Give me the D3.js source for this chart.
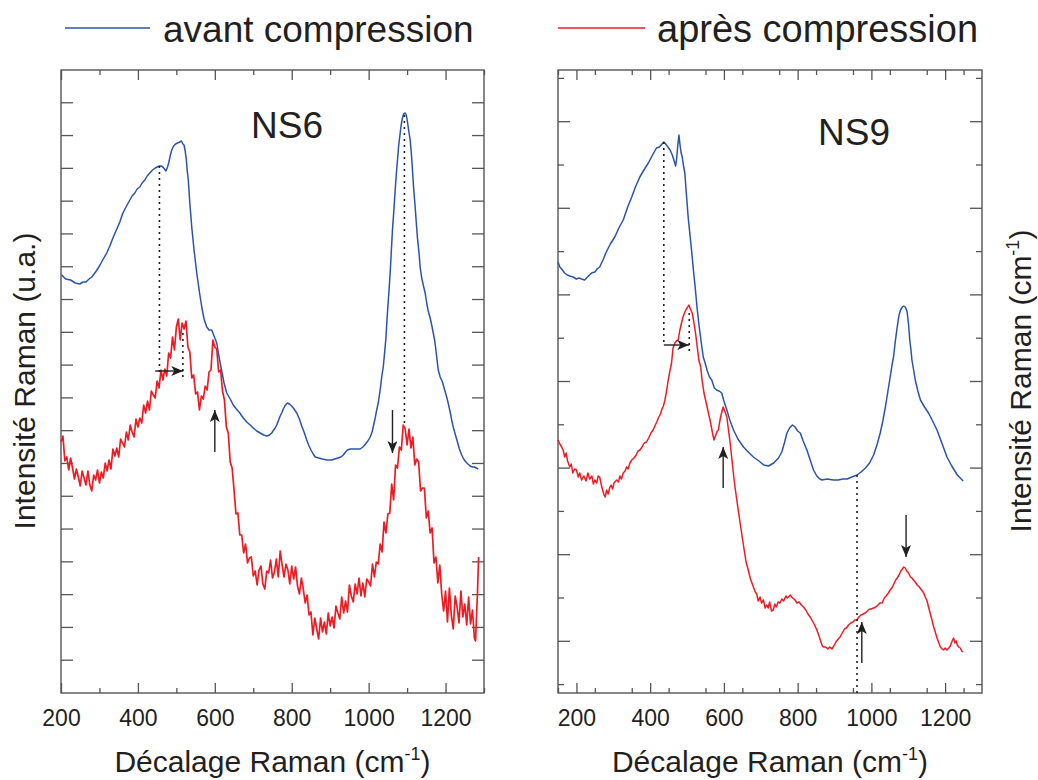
<!DOCTYPE html>
<html>
<head>
<meta charset="utf-8">
<script src="https://cdn.jsdelivr.net/npm/d3@7"></script>
<style>
  body { margin: 0; background: #fff; }
  text { font-family: "Liberation Sans", Arial, sans-serif; fill: #231f20; }
</style>
</head>
<body>
<svg id="chart"></svg>
<script>
// wavenumber (cm-1), intensity (u.a.)
const ns6Avant = [
  [202,418],[212,414],[225,413],[237,410],[249,409],[257,411],[265,411],[273,414],[280,416],[290,421],
  [300,427],[310,434],[319,440],[327,447],[335,455],[344,463],[353,471],[360,479],[365,483],[372,488],
  [379,493],[385,497],[392,500],[398,504],[405,506],[411,510],[418,513],[424,517],[431,520],[438,523],
  [445,525],[450,526],[456,527],[461,527],[465,526],[469,524],[473,522],[477,526],[480,530],[484,537],
  [488,543],[493,547],[498,549],[503,550],[509,551],[513,552],[517,549],[520,548],[523,542],[526,533],
  [528,523],[531,513],[535,490],[540,466],[546,443],[553,420],[560,401],[566,386],[572,374],[579,366],
  [585,363],[592,363],[598,357],[605,350],[611,336],[618,322],[624,310],[631,300],[640,294],[648,288],
  [656,284],[665,280],[674,275],[683,271],[692,268],[700,265],[709,262],[718,260],[727,258],[735,257],
  [742,258],[748,260],[753,263],[757,265],[761,268],[765,272],[770,277],[774,280],[778,284],[782,287],
  [786,289],[789,290],[794,289],[800,287],[806,284],[813,280],[820,274],[826,267],[833,260],[839,253],
  [845,247],[850,243],[856,239],[861,236],[870,235],[880,234],[892,233],[904,233],[912,234],[920,235],
  [928,236],[934,238],[940,241],[945,243],[952,244],[960,244],[970,244],[978,244],[985,246],[992,249],
  [998,252],[1004,256],[1009,261],[1013,268],[1017,275],[1021,283],[1025,290],[1028,298],[1031,306],[1034,316],
  [1038,326],[1041,338],[1045,355],[1048,375],[1052,397],[1056,420],[1059,442],[1062,463],[1066,485],[1069,503],
  [1072,519],[1075,533],[1078,547],[1082,560],[1085,569],[1088,575],[1091,579],[1095,580],[1098,578],[1101,571],
  [1104,563],[1108,553],[1111,540],[1114,523],[1117,505],[1121,486],[1124,470],[1127,455],[1131,440],[1134,426],
  [1138,415],[1142,408],[1147,400],[1151,390],[1155,382],[1160,375],[1164,368],[1168,360],[1172,352],[1175,343],
  [1178,333],[1181,323],[1186,316],[1192,311],[1197,304],[1203,296],[1208,288],[1212,281],[1216,273],[1220,266],
  [1225,259],[1231,251],[1236,244],[1242,238],[1247,234],[1253,231],[1258,229],[1264,227],[1270,226],[1275,226],
  [1280,225],[1285,224]
];

const ns6Apres = [
  [200,251],[205,257],[210,232],[215,236],[220,223],[225,235],[230,225],[235,214],[240,224],[245,216],
  [250,207],[255,222],[260,215],[265,208],[270,222],[275,208],[280,202],[285,218],[290,213],[295,223],
  [300,210],[305,221],[310,215],[315,230],[320,222],[325,233],[330,224],[335,244],[340,237],[345,245],
  [350,236],[355,254],[360,250],[365,246],[370,261],[375,253],[380,268],[385,261],[390,256],[395,274],
  [400,266],[405,275],[410,270],[415,288],[420,280],[425,292],[430,283],[435,302],[440,298],[445,295],
  [450,312],[455,305],[460,323],[465,313],[470,324],[475,317],[480,340],[485,335],[490,356],[495,343],
  [500,366],[505,374],[510,353],[515,370],[520,364],[525,372],[530,346],[535,341],[540,315],[545,318],
  [550,299],[555,301],[560,283],[565,297],[570,294],[575,307],[580,303],[585,321],[590,323],[595,353],
  [600,346],[605,344],[610,321],[615,323],[620,302],[625,293],[630,266],[635,260],[640,231],[645,225],
  [650,203],[655,179],[660,180],[665,158],[670,158],[675,140],[680,149],[685,130],[690,135],[695,136],
  [700,117],[705,122],[710,108],[715,123],[720,127],[725,109],[730,104],[735,122],[740,120],[745,133],
  [750,115],[755,121],[760,134],[765,116],[770,142],[775,128],[780,116],[785,129],[790,123],[795,109],
  [800,127],[805,114],[810,126],[815,107],[820,99],[825,115],[830,104],[835,90],[840,98],[845,78],
  [850,81],[855,58],[860,75],[865,64],[870,54],[875,75],[880,61],[885,71],[890,59],[895,80],
  [900,67],[905,76],[910,65],[915,87],[920,80],[925,74],[930,96],[935,80],[940,92],[945,81],
  [950,108],[955,97],[960,91],[965,109],[970,99],[975,115],[980,97],[985,110],[990,96],[995,114],
  [1000,111],[1005,107],[1010,129],[1015,116],[1020,131],[1025,129],[1030,149],[1035,141],[1040,171],[1045,160],
  [1050,179],[1055,180],[1060,209],[1065,193],[1070,228],[1075,225],[1080,246],[1085,243],[1090,268],[1095,264],
  [1100,248],[1105,264],[1110,245],[1115,256],[1120,228],[1125,234],[1130,231],[1135,202],[1140,205],[1145,205],
  [1150,175],[1155,182],[1160,160],[1165,165],[1170,130],[1175,136],[1180,110],[1185,128],[1190,99],[1195,82],
  [1200,102],[1205,71],[1210,105],[1215,78],[1220,64],[1225,97],[1230,86],[1235,70],[1240,102],[1245,76],
  [1250,89],[1255,68],[1260,96],[1265,69],[1270,83],[1275,55],[1278,52],[1283,100],[1286,136]
];

const ns9Avant = [
  [150,431],[155,426],[160,424],[168,420],[175,418],[182,417],[191,416],[200,414],[207,415],[214,414],
  [222,413],[230,416],[241,420],[250,421],[256,424],[263,426],[272,433],[281,441],[292,449],[304,456],
  [315,465],[327,473],[338,485],[350,496],[360,506],[372,516],[383,523],[395,530],[405,537],[417,545],
  [425,546],[432,549],[437,551],[442,549],[448,546],[454,543],[460,538],[465,532],[469,527],[472,535],
  [475,548],[478,558],[481,548],[484,540],[487,536],[490,528],[494,520],[498,500],[503,476],[508,458],
  [513,440],[517,424],[522,406],[527,386],[533,366],[538,352],[544,336],[549,330],[555,322],[561,316],
  [567,313],[574,305],[580,303],[587,302],[594,300],[600,292],[608,283],[616,273],[626,263],[638,254],
  [653,246],[666,241],[680,236],[695,232],[708,228],[721,227],[735,230],[748,235],[757,241],[764,250],
  [771,260],[778,265],[786,268],[793,266],[800,262],[807,260],[815,252],[825,243],[834,233],[843,223],
  [852,217],[860,214],[866,213],[880,214],[897,213],[910,213],[922,214],[934,214],[947,216],[961,218],
  [972,221],[984,225],[995,230],[1006,238],[1015,248],[1024,260],[1031,272],[1038,286],[1044,300],[1051,316],
  [1056,328],[1060,336],[1065,352],[1070,366],[1075,378],[1079,383],[1084,386],[1088,387],[1092,386],[1097,381],
  [1101,368],[1104,353],[1107,344],[1110,333],[1115,322],[1119,313],[1126,302],[1133,293],[1144,286],[1155,280],
  [1166,272],[1178,263],[1191,250],[1205,236],[1218,227],[1233,218],[1241,215],[1249,212]
];

const ns9Apres = [
  [150,253],[155,249],[160,246],[164,243],[168,236],[172,240],[176,232],[182,226],[186,229],[190,220],
  [195,224],[200,223],[205,216],[209,220],[214,213],[220,217],[226,212],[231,220],[236,214],[242,217],
  [246,209],[250,213],[255,210],[259,217],[263,216],[267,209],[271,203],[275,198],[278,196],[282,203],
  [286,199],[290,205],[294,208],[298,204],[302,210],[309,213],[314,211],[318,217],[322,214],[327,220],
  [332,222],[336,226],[340,224],[345,230],[350,233],[356,235],[362,238],[367,242],[372,243],[378,246],
  [384,250],[390,251],[396,255],[402,260],[408,263],[414,268],[418,271],[422,275],[428,279],[432,284],
  [436,287],[440,293],[445,303],[449,313],[453,321],[458,330],[462,345],[467,350],[471,352],[476,353],
  [480,362],[485,370],[489,376],[494,381],[498,384],[502,386],[505,388],[509,384],[514,380],[518,372],
  [523,360],[528,345],[532,333],[537,326],[541,312],[546,300],[552,290],[558,280],[563,272],[568,262],
  [573,253],[578,258],[582,262],[585,263],[588,270],[591,276],[595,282],[598,286],[601,283],[604,280],
  [608,276],[612,264],[617,250],[621,236],[625,222],[630,206],[635,193],[640,180],[644,170],[650,155],
  [655,143],[660,131],[666,123],[672,114],[676,110],[680,106],[685,101],[689,99],[693,92],[698,96],
  [702,90],[707,93],[712,85],[716,88],[720,85],[724,91],[729,82],[734,83],[738,89],[742,86],
  [747,91],[752,90],[757,94],[762,92],[768,97],[772,95],[775,96],[780,98],[786,95],[790,94],
  [793,93],[798,90],[804,91],[810,88],[816,86],[822,83],[828,79],[834,76],[840,72],[846,68],
  [852,63],[858,57],[863,51],[867,47],[870,46],[876,46],[882,44],[887,46],[893,44],[898,47],
  [904,51],[910,54],[915,56],[921,60],[927,64],[932,65],[938,68],[944,70],[950,71],[955,73],
  [961,73],[966,76],[972,78],[978,79],[983,80],[989,82],[995,84],[1000,84],[1006,85],[1012,86],
  [1018,88],[1023,90],[1029,90],[1035,95],[1040,97],[1046,100],[1051,103],[1057,106],[1062,110],[1066,113],
  [1070,115],[1075,118],[1080,122],[1084,124],[1088,126],[1092,125],[1096,122],[1101,120],[1106,116],[1110,115],
  [1114,113],[1119,111],[1124,108],[1130,106],[1136,103],[1142,100],[1146,96],[1151,92],[1155,86],[1160,79],
  [1165,72],[1169,66],[1174,60],[1178,55],[1183,50],[1187,46],[1192,44],[1196,43],[1200,45],[1205,43],
  [1210,45],[1214,47],[1218,51],[1223,55],[1227,50],[1230,52],[1233,48],[1237,46],[1241,45],[1245,42],
  [1249,41]
];

// dotted guides: [x, yFrom, yTo]
const ns6Guides = [[456,527,320],[517,360,316],[1093,578,268]];
const ns9Guides = [[437,551,348],[506,380,340],[961,218,0]];
// arrows: [x1, y1, x2, y2] (head at the second point)
const ns6Arrows = [[445,322,518,322],[600,241,600,283],[1062,283,1062,240]];
const ns9Arrows = [[437,348,506,348],[598,205,598,246],[974,30,974,71],[1094,178,1094,136]];

const xTickLabels = [200,400,600,800,1000,1200];
const seriesNames = ["avant compression","après compression"];
const colors = ["#2b54a8","#ec1c24"];

const svg = d3.select("#chart").attr("width",1038).attr("height",780);

const defs = svg.append("defs");
defs.append("marker").attr("id","head")
  .attr("markerUnits","userSpaceOnUse")
  .attr("markerWidth",12).attr("markerHeight",10)
  .attr("refX",12).attr("refY",5).attr("orient","auto")
  .append("path").attr("d","M0,0 L12,5 L0,10 L3,5 Z").attr("fill","#231f20");

function panel(o){
  const x=d3.scaleLinear().domain(o.xDomain).range([o.left,o.right]);
  const y=d3.scaleLinear().domain([0,623]).range([693,70]);
  const g=svg.append("g");

  const minor=d3.range(o.xDomain[0],o.xDomain[1]+1,100).filter(v=>v%200!==0);
  const major=d3.range(200,o.xDomain[1]+1,200);

  const ax=(axis)=>axis.tickSizeOuter(0);
  g.append("g").attr("transform","translate(0,693)")
    .call(ax(d3.axisBottom(x).tickValues(xTickLabels).tickSize(-10).tickPadding(17).tickFormat(d3.format("d"))));
  g.append("g").attr("transform","translate(0,693)")
    .call(ax(d3.axisBottom(x).tickValues(minor).tickSize(-5).tickFormat("")));
  g.append("g").attr("transform","translate(0,70)")
    .call(ax(d3.axisTop(x).tickValues(major).tickSize(-10).tickFormat("")));
  g.append("g").attr("transform","translate(0,70)")
    .call(ax(d3.axisTop(x).tickValues(minor).tickSize(-5).tickFormat("")));

  o.yTicks.forEach(t=>{
    const len=o.yLong(t.i)?12:6;
    g.append("line").attr("x1",o.left).attr("x2",o.left+len).attr("y1",y(t.v)).attr("y2",y(t.v));
    g.append("line").attr("x1",o.right).attr("x2",o.right-len).attr("y1",y(t.v)).attr("y2",y(t.v));
  });
  g.selectAll("line").attr("stroke","#555").attr("stroke-width",1.3);
  g.selectAll(".domain").remove();
  g.selectAll(".tick text").attr("font-size",23).attr("fill","#231f20")
    .style("font-family","'Liberation Sans', Arial, sans-serif");

  g.append("rect").attr("x",o.left).attr("y",70)
    .attr("width",o.right-o.left).attr("height",623)
    .attr("fill","none").attr("stroke","#555").attr("stroke-width",1.4);

  const line=d3.line().x(d=>x(d[0])).y(d=>y(d[1]));
  g.append("path").datum(o.before).attr("d",line)
    .attr("fill","none").attr("stroke",colors[0]).attr("stroke-width",1.5).attr("stroke-linejoin","round");
  g.append("path").datum(o.after).attr("d",line)
    .attr("fill","none").attr("stroke",colors[1]).attr("stroke-width",o.redWidth).attr("stroke-linejoin","round");

  o.guides.forEach(d=>{
    g.append("line").attr("x1",x(d[0])).attr("x2",x(d[0])).attr("y1",y(d[1])).attr("y2",y(d[2]))
      .attr("stroke","#231f20").attr("stroke-width",1.6).attr("stroke-dasharray","2,4");
  });
  o.arrows.forEach(d=>{
    g.append("line").attr("x1",x(d[0])).attr("y1",y(d[1])).attr("x2",x(d[2])).attr("y2",y(d[3]))
      .attr("stroke","#231f20").attr("stroke-width",1.4).attr("marker-end","url(#head)");
  });

  g.append("text").attr("x",o.labelX).attr("y",o.labelY)
    .attr("font-size",37).text(o.name);

  const t=g.append("text").attr("x",(o.left+o.right)/2).attr("y",772)
    .attr("text-anchor","middle").attr("font-size",30);
  t.append("tspan").text("Décalage Raman (cm");
  t.append("tspan").attr("font-size",18).attr("dy",-12).text("-1");
  t.append("tspan").attr("dy",12).text(")");
}

const ns6YTicks=d3.range(1,19).map(i=>({i,v:i*32.79}));
const ns9YTicks=d3.range(0,15).map(i=>({i,v:8.4+i*43.3}));

panel({name:"NS6",xDomain:[200,1300],left:61,right:484,before:ns6Avant,after:ns6Apres,redWidth:1.7,
  guides:ns6Guides,arrows:ns6Arrows,yTicks:ns6YTicks,yLong:()=>true,labelX:251,labelY:138});
panel({name:"NS9",xDomain:[150,1300],left:558,right:982,before:ns9Avant,after:ns9Apres,redWidth:1.5,
  guides:ns9Guides,arrows:ns9Arrows,yTicks:ns9YTicks,yLong:i=>i%2===1,labelX:818,labelY:145});

// legend
const legendPos=[{x1:65,x2:150,tx:163,fs:37},{x1:558,x2:645,tx:657,fs:38}];
seriesNames.forEach((name,i)=>{
  const p=legendPos[i];
  svg.append("line").attr("x1",p.x1).attr("x2",p.x2).attr("y1",28).attr("y2",28)
    .attr("stroke",colors[i]).attr("stroke-width",1.6);
  svg.append("text").attr("x",p.tx).attr("y",42).attr("font-size",p.fs).text(name);
});

// y titles
svg.append("text").attr("transform","translate(35,381) rotate(-90)")
  .attr("text-anchor","middle").attr("font-size",30).text("Intensité Raman (u.a.)");
const yt=svg.append("text").attr("transform","translate(1031,381) rotate(-90)")
  .attr("text-anchor","middle").attr("font-size",30);
yt.append("tspan").text("Intensité Raman (cm");
yt.append("tspan").attr("font-size",18).attr("dy",-12).text("-1");
yt.append("tspan").attr("dy",12).text(")");
</script>
</body>
</html>
